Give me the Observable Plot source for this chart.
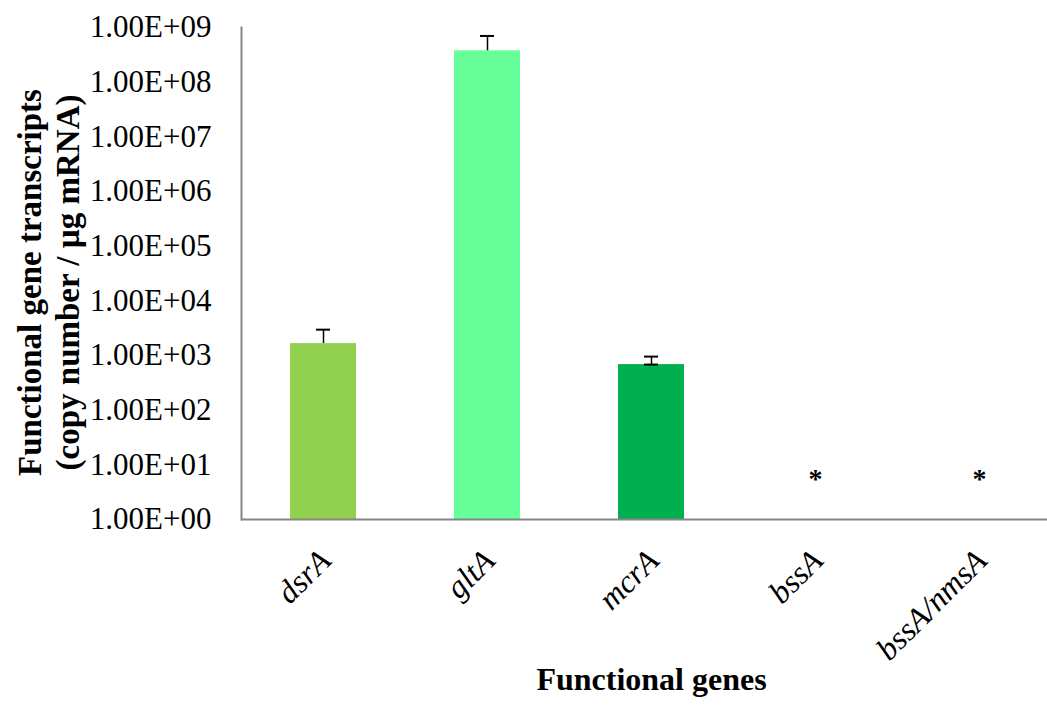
<!DOCTYPE html>
<html>
<head>
<meta charset="utf-8">
<script src="https://cdn.jsdelivr.net/npm/d3@7"></script>
<script src="https://cdn.jsdelivr.net/npm/@observablehq/plot@0.6"></script>
<style>
  html, body { margin: 0; padding: 0; background: white; overflow: hidden; }
  #chart svg { overflow: hidden; }
  #chart svg, #chart svg text, #chart svg tspan { font-family: "Liberation Serif", "Times New Roman", serif !important; }
</style>
</head>
<body>
<div id="chart"></div>
<script>
const genes = ["dsrA", "gltA", "mcrA", "bssA", "bssA/nmsA"];
const measuredGenes = ["dsrA", "gltA", "mcrA"];
const values = [1650, 3.75e8, 682];
const errHigh = [2970, 7.0e8, 955];
const errLow = [null, null, 682];
const barColors = ["#92D050", "#66FF99", "#00B050"];
const notDetected = ["bssA", "bssA/nmsA"];
const yTicks = [1e0, 1e1, 1e2, 1e3, 1e4, 1e5, 1e6, 1e7, 1e8, 1e9];
const yTickLabels = ["1.00E+00", "1.00E+01", "1.00E+02", "1.00E+03", "1.00E+04",
                     "1.00E+05", "1.00E+06", "1.00E+07", "1.00E+08", "1.00E+09"];
const yTitle = "Functional gene transcripts\n(copy number / µg mRNA)";
const xTitle = "Functional genes";

const data = measuredGenes.map((g, i) => ({gene: g, value: values[i], hi: errHigh[i], lo: errLow[i], color: barColors[i]}));
const axisColor = "#868686";
const serif = "Liberation Serif";

const chart = Plot.plot({
  width: 1047,
  height: 708,
  marginLeft: 241,
  marginRight: -14,
  marginTop: 27,
  marginBottom: 189,
  style: {fontFamily: serif, color: "black", background: "white"},
  x: {domain: genes, paddingInner: 0.6, paddingOuter: 0.3, axis: null},
  y: {type: "log", domain: [1, 1e9], axis: null},
  marks: [
    Plot.barY(data, {x: "gene", y1: 1, y2: "value", fill: "color"}),
    Plot.ruleX(data, {x: "gene", y1: "value", y2: "hi", stroke: "black", strokeWidth: 1.5}),
    Plot.tickY(data, {x: "gene", y: "hi", stroke: "black", strokeWidth: 2, insetLeft: 26, insetRight: 26}),
    Plot.tickY(data.filter(d => d.lo != null), {x: "gene", y: "lo", stroke: "black", strokeWidth: 2, insetLeft: 26, insetRight: 26}),
    Plot.ruleY([1], {stroke: axisColor, strokeWidth: 2}),
    Plot.frame({anchor: "left", stroke: axisColor, strokeWidth: 2}),
    Plot.axisY({ticks: yTicks, tickFormat: d => yTickLabels[Math.round(Math.log10(d))], tickSize: 0, tickPadding: 30, fontSize: 31, fontFamily: serif, label: null}),
    Plot.text(notDetected, {x: d => d, frameAnchor: "bottom", dy: -32, text: d => "*", fontSize: 28, fontWeight: "bold", fontFamily: serif}),
    Plot.text(genes, {x: d => d, frameAnchor: "bottom", text: d => d, rotate: -45, textAnchor: "end", lineAnchor: "top", dx: -7, dy: 27, fontSize: 32, fontStyle: "italic", fontFamily: serif}),
    Plot.text([yTitle], {frameAnchor: "left", text: d => d, rotate: -90, textAnchor: "middle", dx: -194, dy: 9, fontSize: 33, fontWeight: "bold", lineHeight: 1.15, fontFamily: serif}),
    Plot.text([xTitle], {frameAnchor: "bottom", text: d => d, dy: 170, fontSize: 32, fontWeight: "bold", fontFamily: serif})
  ]
});
document.getElementById("chart").appendChild(chart);
</script>
</body>
</html>
